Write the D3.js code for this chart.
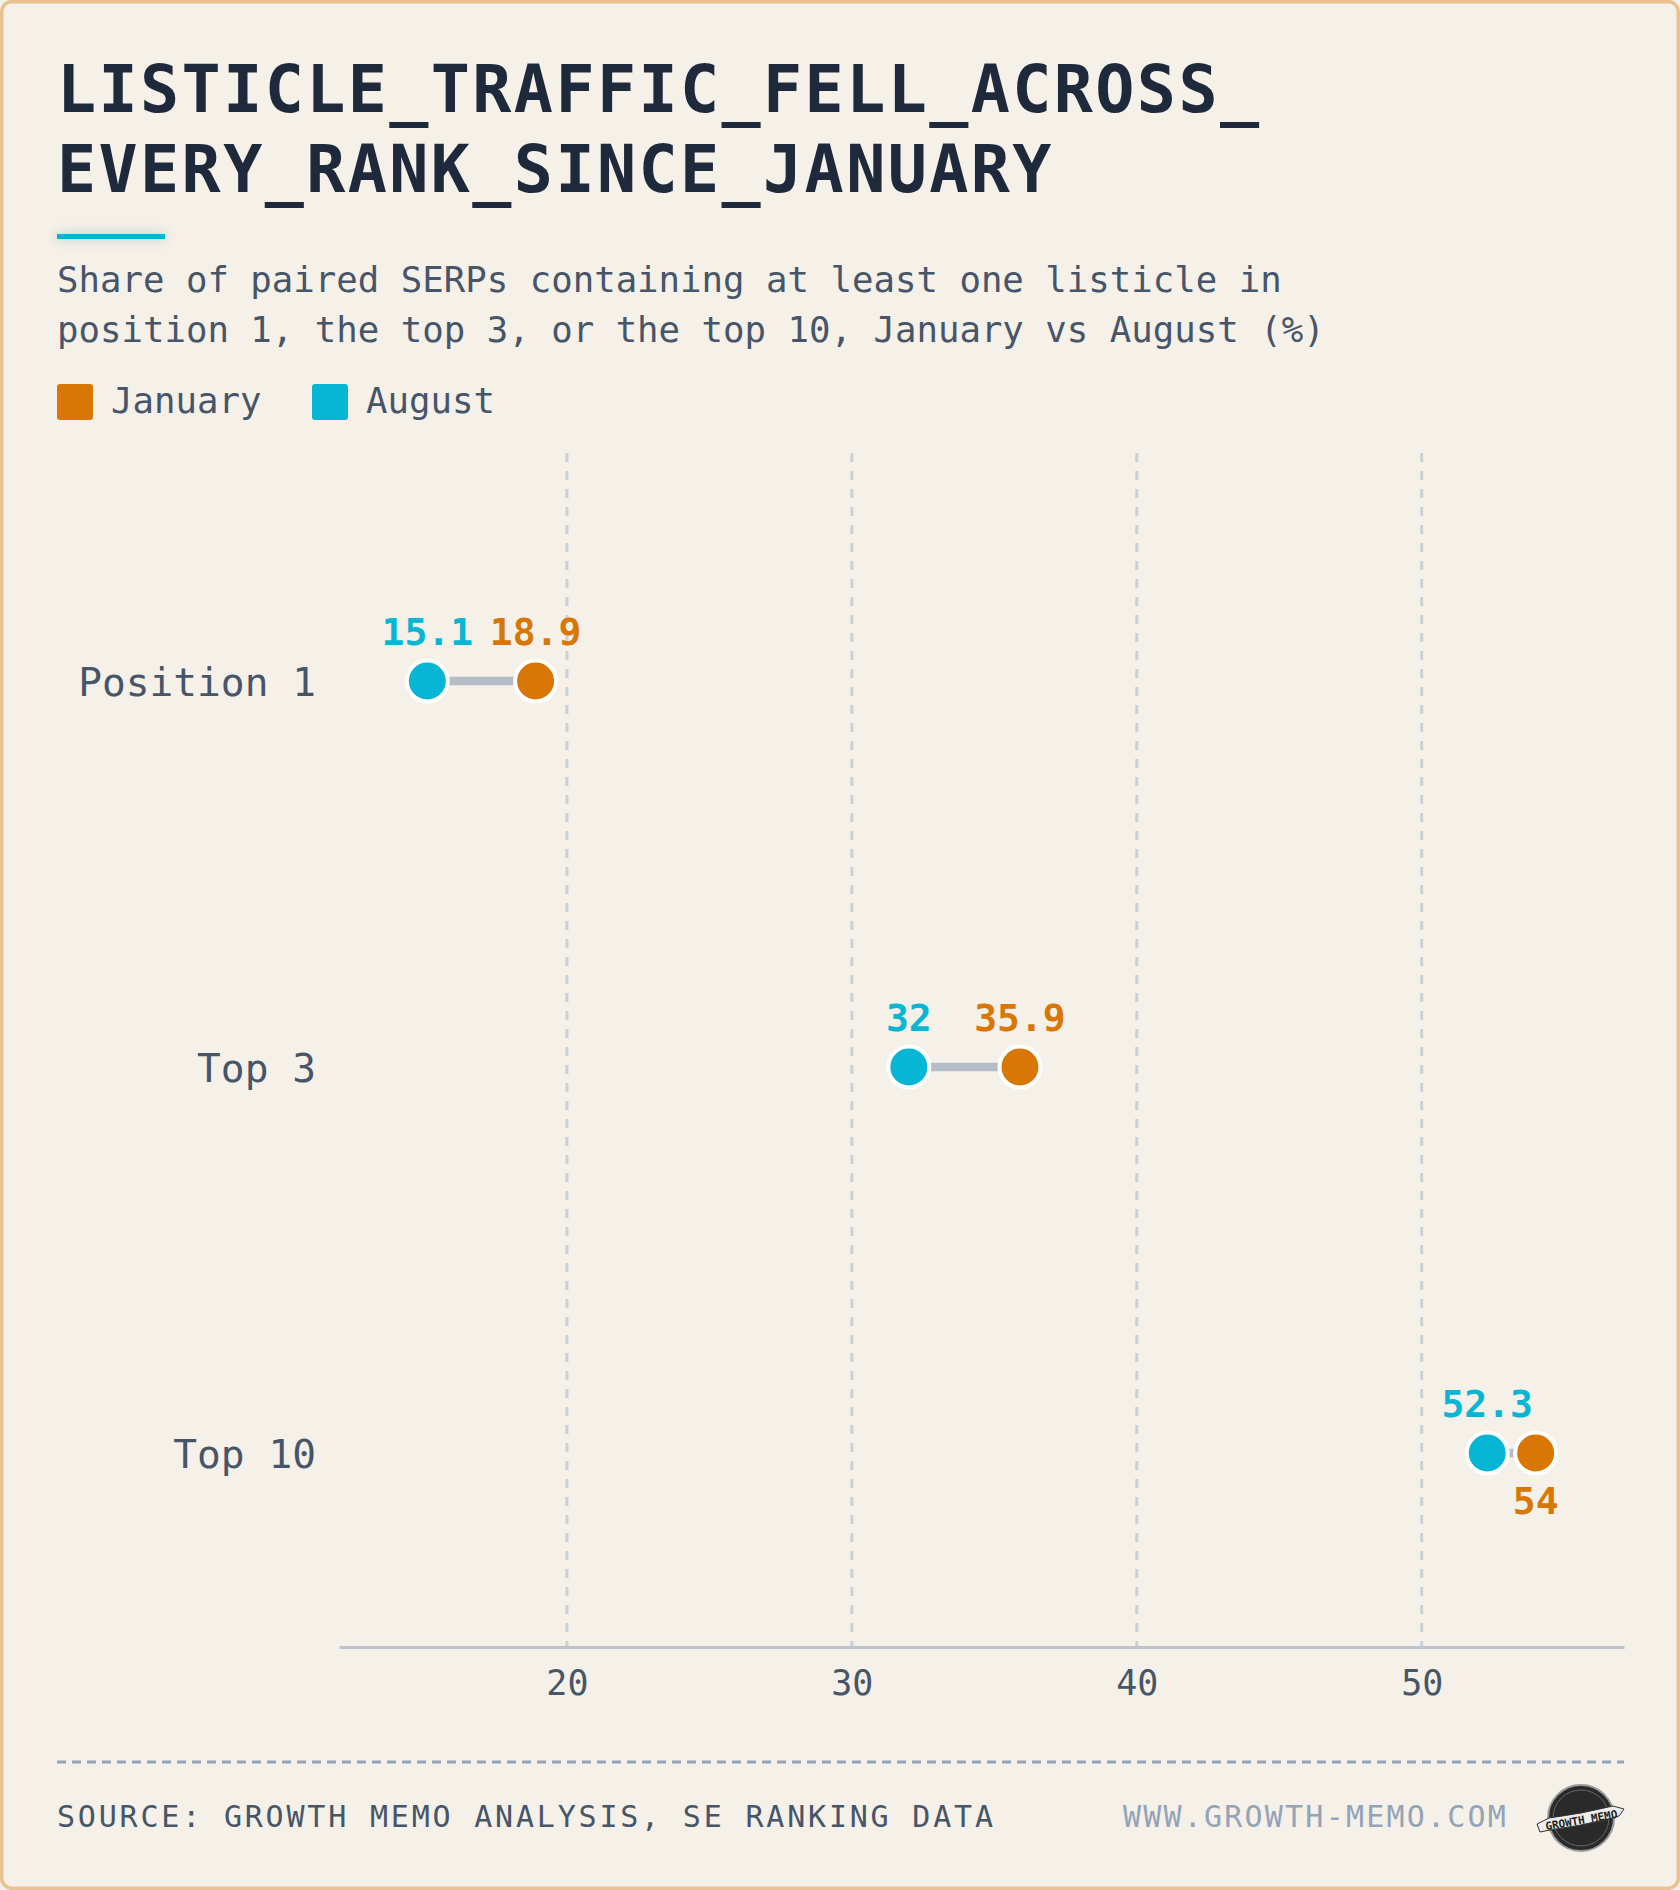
<!DOCTYPE html>
<html>
<head>
<meta charset="utf-8">
<script src="https://cdn.jsdelivr.net/npm/d3@7"></script>
<style>
  html, body { margin: 0; padding: 0; background: #F5F0E8; }
  svg { display: block; }
  text { font-family: "DejaVu Sans Mono", monospace; }
</style>
</head>
<body>
<div id="chart"></div>
<script>
// chart data
const categories   = ["Position 1", "Top 3", "Top 10"];
const januaryVals  = [18.9, 35.9, 54];
const augustVals   = [15.1, 32, 52.3];
const tickValues   = [20, 30, 40, 50];
const seriesNames  = ["January", "August"];

const titleLines    = ["LISTICLE_TRAFFIC_FELL_ACROSS_", "EVERY_RANK_SINCE_JANUARY"];
const subtitleLines = ["Share of paired SERPs containing at least one listicle in",
                       "position 1, the top 3, or the top 10, January vs August (%)"];
const sourceText = "SOURCE: GROWTH MEMO ANALYSIS, SE RANKING DATA";
const siteText   = "WWW.GROWTH-MEMO.COM";

// colours
const colJan   = "#D97706";
const colAug   = "#06B6D4";
const colInk   = "#1E293B";
const colMuted = "#475569";

const W = 1680, H = 1890;

const svg = d3.select("#chart").append("svg")
  .attr("width", W)
  .attr("height", H);

const defs = svg.append("defs");
const glow = defs.append("filter").attr("id", "glow")
  .attr("x", "-50%").attr("y", "-400%").attr("width", "200%").attr("height", "900%");
glow.append("feDropShadow")
  .attr("dx", 0).attr("dy", 0).attr("stdDeviation", 6)
  .attr("flood-color", "#0e7490").attr("flood-opacity", 0.35);

// card + border
svg.append("rect")
  .attr("x", 1.75).attr("y", 1.75)
  .attr("width", W - 3.5).attr("height", H - 3.5)
  .attr("rx", 10)
  .attr("fill", "#F5F0E8")
  .attr("stroke", "#E9C28F")
  .attr("stroke-width", 3.5);

// 1) HEADER
svg.append("g").selectAll("text")
  .data(titleLines)
  .enter()
  .append("text")
    .attr("x", 57)
    .attr("y", (d, i) => 112 + i * 80)
    .attr("font-size", 65)
    .attr("font-weight", "bold")
    .attr("letter-spacing", 2.4)
    .attr("fill", colInk)
    .text(d => d);

// cyan accent bar
svg.append("rect")
  .attr("x", 57).attr("y", 234)
  .attr("width", 108).attr("height", 5)
  .attr("fill", colAug)
  .attr("filter", "url(#glow)");

svg.append("g").selectAll("text")
  .data(subtitleLines)
  .enter()
  .append("text")
    .attr("x", 57)
    .attr("y", (d, i) => 292 + i * 50)
    .attr("font-size", 35.7)
    .attr("fill", colMuted)
    .text(d => d);

// legend
const legendX = [57, 312];
const legend = svg.append("g").selectAll("g")
  .data(seriesNames)
  .enter()
  .append("g")
    .attr("transform", (d, i) => `translate(${legendX[i]}, 384)`);

legend.append("rect")
  .attr("width", 36).attr("height", 36).attr("rx", 3)
  .attr("fill", d => d === "January" ? colJan : colAug);

legend.append("text")
  .attr("x", 54)
  .attr("y", 29)
  .attr("font-size", 35.7)
  .attr("fill", colMuted)
  .text(d => d);

// 2) SCALES
const x = d3.scaleLinear()
  .domain([12, 57.1])
  .range([339, 1624]);

const y = d3.scaleBand()
  .domain(categories)
  .range([488, 1646])
  .padding(0);

const axisY = 1647;

// gridlines
svg.append("g").selectAll("line")
  .data(tickValues)
  .enter()
  .append("line")
    .attr("x1", d => x(d)).attr("x2", d => x(d))
    .attr("y1", 453).attr("y2", axisY)
    .attr("stroke", "#CBD0D6")
    .attr("stroke-width", 3)
    .attr("stroke-dasharray", "9,9");

// x axis
const xAxis = svg.append("g")
  .attr("transform", `translate(0, ${axisY})`)
  .call(d3.axisBottom(x).tickValues(tickValues).tickSize(0).tickPadding(23));

xAxis.select(".domain")
  .attr("stroke", "#BCC4CF")
  .attr("stroke-width", 3);

xAxis.selectAll(".tick text")
  .attr("font-family", "DejaVu Sans Mono")
  .attr("font-size", 35)
  .attr("fill", colMuted);

// category labels
svg.append("g").selectAll("text")
  .data(categories)
  .enter()
  .append("text")
    .attr("x", 316)
    .attr("y", d => y(d) + y.bandwidth() / 2)
    .attr("dy", "0.37em")
    .attr("text-anchor", "end")
    .attr("font-size", 39.5)
    .attr("fill", colMuted)
    .text(d => d);

// 3) DUMBBELLS
const rows = categories.map((c, i) => ({ cat: c, jan: januaryVals[i], aug: augustVals[i] }));

const rowG = svg.append("g").selectAll("g")
  .data(rows)
  .enter()
  .append("g")
    .attr("transform", d => `translate(0, ${y(d.cat) + y.bandwidth() / 2})`);

rowG.append("line")
  .attr("x1", d => x(d.aug))
  .attr("x2", d => x(d.jan))
  .attr("stroke", "#B4BCC8")
  .attr("stroke-width", 8.5);

rowG.append("circle")
  .attr("cx", d => x(d.aug))
  .attr("r", 20.5)
  .attr("fill", colAug)
  .attr("stroke", "#fff")
  .attr("stroke-width", 4);

rowG.append("circle")
  .attr("cx", d => x(d.jan))
  .attr("r", 20.5)
  .attr("fill", colJan)
  .attr("stroke", "#fff")
  .attr("stroke-width", 4);

// value labels; January drops below when the dots are too close
const tooClose = d => Math.abs(x(d.jan) - x(d.aug)) < 80;

rowG.append("text")
  .attr("x", d => x(d.aug))
  .attr("y", -36)
  .attr("text-anchor", "middle")
  .attr("font-size", 38)
  .attr("font-weight", "bold")
  .attr("fill", colAug)
  .text(d => d.aug);

rowG.append("text")
  .attr("x", d => x(d.jan))
  .attr("y", d => tooClose(d) ? 61 : -36)
  .attr("text-anchor", "middle")
  .attr("font-size", 38)
  .attr("font-weight", "bold")
  .attr("fill", colJan)
  .text(d => d.jan);

// 4) FOOTER
svg.append("line")
  .attr("x1", 57).attr("x2", 1624)
  .attr("y1", 1762).attr("y2", 1762)
  .attr("stroke", "#94A3B8")
  .attr("stroke-width", 3)
  .attr("stroke-dasharray", "9,6");

svg.append("text")
  .attr("x", 57).attr("y", 1827)
  .attr("font-size", 30)
  .attr("letter-spacing", 2.8)
  .attr("fill", colMuted)
  .text(sourceText);

svg.append("text")
  .attr("x", 1508).attr("y", 1827)
  .attr("text-anchor", "end")
  .attr("font-size", 30)
  .attr("letter-spacing", 2.2)
  .attr("fill", "#94A3B8")
  .text(siteText);

// badge
const badge = svg.append("g").attr("transform", "translate(1581, 1818)");
badge.append("circle")
  .attr("r", 33)
  .attr("fill", "#2A2A2A")
  .attr("stroke", "#9a9a9a")
  .attr("stroke-width", 2);
badge.append("circle")
  .attr("r", 28)
  .attr("fill", "none")
  .attr("stroke", "#666")
  .attr("stroke-width", 1);
badge.append("path")
  .attr("d", "M-44,6 L-32,0 Q0,-4 32,-12 L43,-9 L38,-2 L31,0 Q0,8 -31,12 L-41,14 Z")
  .attr("fill", "#EDEDED")
  .attr("stroke", "#333")
  .attr("stroke-width", 1);
badge.append("text")
  .attr("x", 0).attr("y", 6)
  .attr("text-anchor", "middle")
  .attr("font-family", "DejaVu Sans Condensed")
  .attr("font-weight", "bold")
  .attr("font-size", 11)
  .attr("fill", "#222")
  .attr("transform", "rotate(-10)")
  .text("GROWTH MEMO");
</script>
</body>
</html>
